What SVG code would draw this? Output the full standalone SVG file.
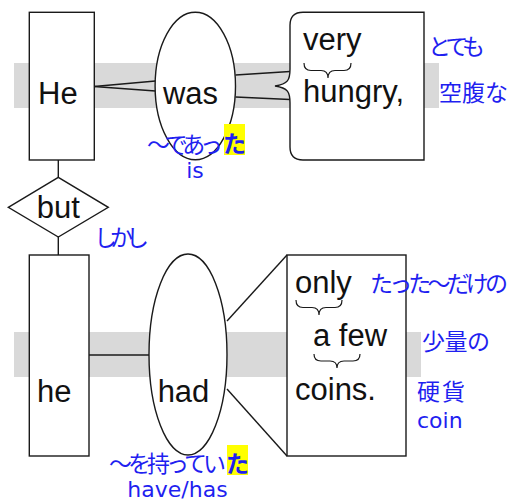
<svg xmlns="http://www.w3.org/2000/svg" width="509" height="500" viewBox="0 0 509 500">
<style>
.band{fill:#d9d9d9}
.shape{fill:#fff;stroke:#1a1a1a;stroke-width:1.4}
.ln{stroke:#1a1a1a;stroke-width:1.4;fill:none}
.br{stroke:#1a1a1a;stroke-width:1.2;fill:none}
.w{font-family:"Liberation Sans",Arial,sans-serif;font-size:31px;fill:#111}
.ja{font-family:"Noto Sans CJK JP",sans-serif;font-size:23px;fill:#1f1ff0}
.en{font-family:"DejaVu Sans",sans-serif;font-size:22px;fill:#1f1ff0}
.hl{fill:#ffff00}
.bold{font-weight:bold}
</style>
<rect width="509" height="500" fill="#fff"/>
<g id="bands">
<rect class="band" x="14" y="63" width="425" height="45"/>
<rect class="band" x="14" y="332" width="407" height="45"/>
</g>
<g id="connectors">
<line class="ln" x1="94" y1="86.5" x2="155.5" y2="81"/>
<line class="ln" x1="94" y1="86.5" x2="155.5" y2="91"/>
<line class="ln" x1="235.5" y1="75" x2="290" y2="71.5"/>
<line class="ln" x1="235.5" y1="97" x2="290" y2="99.5"/>
<line class="ln" x1="58.3" y1="160" x2="58.3" y2="177.3"/>
<line class="ln" x1="58.3" y1="237" x2="58.3" y2="255"/>
<line class="ln" x1="89" y1="355" x2="149" y2="355"/>
<line class="ln" x1="227" y1="321" x2="287" y2="255"/>
<line class="ln" x1="227" y1="389" x2="287" y2="456"/>
</g>
<g id="node-He">
<rect class="shape" x="29.3" y="12.3" width="65" height="147.7"/>
<text class="w" x="38" y="104">He</text>
</g>
<g id="node-was">
<ellipse class="shape" cx="195.3" cy="86" rx="40.2" ry="73.8"/>
<text class="w" x="190.5" y="104" text-anchor="middle">was</text>
</g>
<g id="node-very-hungry">
<path class="shape" d="M303,12.3 L424,12.3 L424,160 L303,160 Q290,160 290,147 L290,103 C290,92 288,88 275,86 C288,84 290,80 290,69 L290,25.3 Q290,12.3 303,12.3 Z"/>
<text class="w" x="303" y="50">very</text>
<path class="br" d="M304,63 Q304,70.5 311,70.5 L321,70.5 Q328,70.5 328,78 Q328,70.5 335,70.5 L344,70.5 Q351,70.5 351,63"/>
<text class="w" x="303" y="102">hungry,</text>
</g>
<g id="node-but">
<polygon class="shape" points="8.3,207.3 58.3,177.3 108.3,207.3 58.3,237"/>
<text class="w" x="58.3" y="218" text-anchor="middle">but</text>
</g>
<g id="node-he">
<rect class="shape" x="29.3" y="255" width="59.7" height="201"/>
<text class="w" x="37" y="402">he</text>
</g>
<g id="node-had">
<ellipse class="shape" cx="188" cy="354.5" rx="39" ry="100.5"/>
<text class="w" x="183.5" y="402" text-anchor="middle">had</text>
</g>
<g id="node-coins">
<rect class="shape" x="287" y="255" width="119" height="201"/>
<text class="w" x="295" y="293">only</text>
<path class="br" d="M296,300 Q296,307.5 303,307.5 L312,307.5 Q319,307.5 319,315 Q319,307.5 326,307.5 L335,307.5 Q342,307.5 342,300"/>
<text class="w" x="313" y="346">a few</text>
<path class="br" d="M314,354 Q314,361 321,361 L330,361 Q337,361 337,368 Q337,361 344,361 L353,361 Q360,361 360,354"/>
<text class="w" x="295" y="400">coins.</text>
</g>
<g id="labels">
<text class="ja" x="428" y="55" textLength="57" lengthAdjust="spacing">とても</text>
<text class="ja" x="439" y="101" textLength="69" lengthAdjust="spacing">空腹な</text>
<text class="ja" x="147" y="153" textLength="76" lengthAdjust="spacing">～であっ</text>
<rect class="hl" x="224" y="124" width="21" height="31"/>
<text class="ja bold" x="234.5" y="152" text-anchor="middle" font-size="22">た</text>
<text class="en" x="195" y="178" text-anchor="middle">is</text>
<text class="ja" x="94" y="246" textLength="55" lengthAdjust="spacing">しかし</text>
<text class="ja" x="370" y="292" textLength="138" lengthAdjust="spacing">たった～だけの</text>
<text class="ja" x="422" y="350" textLength="68" lengthAdjust="spacing">少量の</text>
<text class="ja" x="417" y="400" textLength="48" lengthAdjust="spacing">硬貨</text>
<text class="en" x="417" y="428">coin</text>
<text class="ja" x="109" y="472" textLength="117" lengthAdjust="spacing">～を持ってい</text>
<rect class="hl" x="227" y="445" width="21" height="30"/>
<text class="ja bold" x="237.5" y="472" text-anchor="middle" font-size="22">た</text>
<text class="en" x="177.5" y="497" text-anchor="middle">have/has</text>
</g>
</svg>
